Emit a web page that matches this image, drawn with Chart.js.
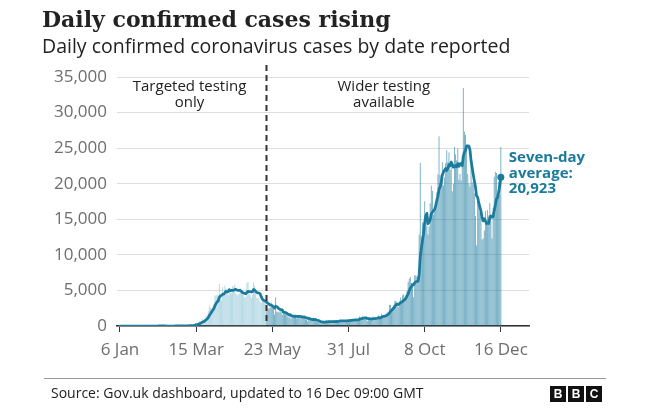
<!DOCTYPE html>
<html><head><meta charset="utf-8">
<script src="https://cdn.jsdelivr.net/npm/chart.js@4.4.1/dist/chart.umd.min.js"></script>
<style>
html,body{margin:0;padding:0;background:#fff;}
#wrap{position:relative;width:650px;height:409px;overflow:hidden;background:#fff;}
canvas{position:absolute;left:0;top:0;}
.t{position:absolute;white-space:nowrap;color:#222;}
#title{left:42px;top:8px;font:bold 22px/22px 'DejaVu Serif';}
#sub{left:42px;top:36px;font:19.5px/19.5px 'Open Sans';}
#rule{position:absolute;left:44px;top:378px;width:562px;height:1px;background:#9a9a9a;}
#src{left:51px;top:386px;font:14px/14px 'Open Sans';}
#bbc{position:absolute;left:550px;top:386px;display:flex;gap:2px;}
#bbc span{display:block;width:16px;height:16px;background:#111;color:#fff;font:bold 12px/16px 'Liberation Sans';text-align:center;}
</style></head><body>
<div id="wrap">
<canvas id="c" width="650" height="409"></canvas>
<div class="t" id="title">Daily confirmed cases rising</div>
<div class="t" id="sub">Daily confirmed coronavirus cases by date reported</div>
<div id="rule"></div>
<div class="t" id="src">Source: Gov.uk dashboard, updated to 16 Dec 09:00 GMT</div>
<div id="bbc"><span>B</span><span>B</span><span>C</span></div>
</div>
<script>
// ---- data ----
const startDate = '2020-01-06';
const testingChangeDate = '2020-05-18';
const tickDates = ['2020-01-06','2020-03-15','2020-05-23','2020-07-31','2020-10-08','2020-12-16'];
const tickLabels = ['6 Jan','15 Mar','23 May','31 Jul','8 Oct','16 Dec'];
const yTickValues = [0,5000,10000,15000,20000,25000,30000,35000];

// daily reported cases (bars), 6 Jan – 16 Dec
const casesJan = [0,0,0,0,0,0,0,0,0,0,0,0,0,0,0,0,0,0,0,0,0,0,0,0,0,2];
const casesFeb = [0,0,0,0,0,1,0,0,1,4,0,1,0,0,0,0,0,0,0,0,0,0,0,0,4,0,0,2,5];
const casesMar = [12,4,11,34,30,48,43,67,48,52,83,134,117,342,407,152,407,676,643,714,1035,665,967,1427,1452,2129,2885,2546,2433,2619,3009];
const casesApr = [4324,4244,4450,3735,5903,3802,3634,5491,4344,5706,5234,5288,4342,5252,4603,4617,5599,5525,5850,4676,4301,4451,4583,5386,4913,4463,4309,3996,4076,6032];
const casesMay = [6201,4806,4339,3985,4406,6111,5614,4649,3896,3923,3877,3403,3242,3446,3560,3451,3534,2684,2412,2472,2615,3287,2959,2409,1625,4043,2004,2013,1887,2445,1936];
const casesJun = [1570,1871,1805,1650,1557,1326,1205,1741,1003,1266,1541,1425,1514,1056,1514,1279,1115,1218,1346,1295,1221,958,874,653,1118,1006,890,815,1146,689];
const casesJul = [829,576,544,624,516,352,581,630,512,642,820,650,530,580,538,463,687,827,650,796,445,760,769,767,768,747,685,581,763,846,880];
const casesAug = [744,938,743,771,892,950,871,758,1062,1351,1148,1009,1441,1062,1012,1040,713,1089,812,1182,1033,1288,1041,853,1184,1048,1522,1276,1108,1715,1406];
const casesSep = [1295,1508,1735,1940,1813,2988,2948,2460,2659,2919,3539,3497,3330,2621,3105,3991,3395,4322,4422,3899,4368,4926,6178,6634,6874,6042,5693,4044,7143,7108];
const casesOct = [6914,6968,12872,22961,12594,14542,14162,17540,13864,15166,12872,13972,17234,19724,18980,15650,16171,16982,18804,21331,26688,21242,20530,23012,19790,20890,22885,24701,23065,24405,21915];
const casesNov = [23254,18950,20018,25177,24141,23287,24957,20572,21350,20412,22950,33470,27301,26860,24962,21363,20051,19609,22915,20252,19875,18662,15450,11299,18213,17555,16022,15871,12155,12330];
const casesDec = [13430,16170,14879,16298,15539,17272,14718,12282,16578,20964,21672,21502,18447,20263,18450,25161];

// seven-day average (line), 6 Jan – 16 Dec
const avgJan = [0,0,0,0,0,0,0,0,0,0,0,0,0,0,0,0,0,0,0,0,0,0,0,0,0,0];
const avgFeb = [0,0,0,0,0,0,0,0,0,1,1,1,1,1,1,1,0,0,0,0,0,0,0,0,1,1,1,1,2];
const avgMar = [3,4,5,8,13,20,26,34,40,46,53,68,78,120,169,184,235,319,392,477,576,613,730,875,986,1198,1509,1724,1977,2213,2439];
const avgApr = [2849,3151,3375,3545,4041,4210,4299,4466,4480,4659,4873,4786,4863,5094,4967,5006,4991,5032,5113,5160,5024,5003,4998,4967,4880,4682,4629,4586,4532,4739];
const avgMay = [4856,4840,4823,4776,4835,5126,5066,4844,4714,4655,4639,4496,4086,3777,3621,3557,3502,3331,3190,3080,2961,2922,2852,2691,2540,2773,2706,2620,2420,2347,2279];
const avgJun = [2271,1961,1932,1881,1833,1674,1569,1594,1470,1393,1377,1358,1385,1364,1331,1371,1349,1303,1292,1260,1284,1205,1147,1081,1066,1018,960,902,929,902];
const avgJul = [928,850,784,746,703,590,575,546,537,551,579,598,624,623,610,603,610,611,611,649,629,661,705,716,708,722,706,725,726,737,753];
const avgAug = [749,777,785,812,831,845,844,846,864,951,1005,1021,1091,1119,1155,1152,1061,1052,1024,987,983,1022,1023,1043,1056,1090,1138,1173,1147,1244,1323];
const avgSep = [1339,1404,1435,1530,1630,1812,2032,2199,2363,2532,2761,3001,3050,3004,3096,3286,3354,3466,3598,3679,3929,4189,4501,4964,5329,5560,5816,5770,6087,6220];
const avgOct = [6260,6273,7249,9716,10937,11994,13002,14520,15505,15833,14391,14588,14973,15767,15973,16228,16372,16959,17649,18235,19229,19553,20250,21227,21628,21926,22148,21864,22125,22678,22522];
const avgNov = [23016,22739,22330,22398,22551,22392,22826,22443,22786,22842,22524,23857,24430,24702,25329,25331,25280,24802,23294,22287,21290,20390,19545,18295,18095,17329,16725,16153,15224,14778];
const avgDec = [15082,14790,14408,14448,14400,15131,15472,15308,15367,16236,17004,17855,18023,18815,19697,20923];

const annotLeft = ['Targeted testing','only'];
const annotRight = ['Wider testing','available'];
const annotAvg = ['Seven-day','average:','20,923'];

// ---- build ----
const DAY = 86400000;
const dayIndex = d => Math.round((Date.parse(d) - Date.parse(startDate)) / DAY);
const cases = [].concat(casesJan,casesFeb,casesMar,casesApr,casesMay,casesJun,casesJul,casesAug,casesSep,casesOct,casesNov,casesDec);
const avg = [].concat(avgJan,avgFeb,avgMar,avgApr,avgMay,avgJun,avgJul,avgAug,avgSep,avgOct,avgNov,avgDec);
const changeDay = dayIndex(testingChangeDate);
const tickDays = tickDates.map(dayIndex);
const barPts = cases.map((v,i)=>({x:i,y:v}));
const linePts = avg.map((v,i)=>({x:i,y:v}));
const lastIdx = linePts.length - 1;

const TEAL = '#1a7b9c';
const SANS = "'Open Sans'";

const annot = {
  id: 'annot',
  afterDatasetsDraw(chart){
    const {ctx, chartArea:a, scales:{x, y}} = chart;
    const dx = Math.round(x.getPixelForValue(changeDay - 0.5)) + 0.5;
    ctx.save();
    ctx.strokeStyle = '#333'; ctx.lineWidth = 2; ctx.setLineDash([6,4]);
    ctx.beginPath(); ctx.moveTo(dx, a.top - 12); ctx.lineTo(dx, a.bottom); ctx.stroke();
    ctx.setLineDash([]);
    ctx.fillStyle = '#222';
    ctx.font = `15px ${SANS}`;
    ctx.textAlign = 'center'; ctx.textBaseline = 'middle';
    const xl = x.getPixelForValue(63), xr = x.getPixelForValue(239);
    annotLeft.forEach((s,i)=>ctx.fillText(s, xl, a.top + 10 + i*16));
    annotRight.forEach((s,i)=>ctx.fillText(s, xr, a.top + 10 + i*16));
    const px = x.getPixelForValue(lastIdx), py = y.getPixelForValue(avg[lastIdx]);
    ctx.fillStyle = TEAL;
    ctx.font = `bold 15px ${SANS}`;
    ctx.textAlign = 'left';
    annotAvg.forEach((s,i)=>ctx.fillText(s, px + 8, py - 19 + i*15.5));
    ctx.restore();
  }
};

new Chart(document.getElementById('c'), {
  data: {
    datasets: [
      {
        type: 'line', data: linePts, order: 0,
        borderColor: TEAL, borderWidth: 2.75, tension: 0,
        pointRadius: c => c.dataIndex === lastIdx ? 3.5 : 0,
        pointBackgroundColor: TEAL, pointBorderWidth: 0,
        borderJoinStyle: 'round', borderCapStyle: 'round'
      },
      {
        type: 'bar', data: barPts, order: 1,
        backgroundColor: c => (c.raw && c.raw.x >= changeDay) ? 'rgba(20,118,155,0.62)' : 'rgba(100,175,200,0.5)',
        barPercentage: 0.8, categoryPercentage: 1, borderWidth: 0
      }
    ]
  },
  options: {
    responsive: false, animation: false,
    layout: { padding: { left: 0, right: 121, top: 77, bottom: 43 } },
    plugins: { legend: {display:false}, tooltip: {enabled:false} },
    scales: {
      x: {
        type: 'linear', min: -2.7, max: 370.5, offset: false,
        afterBuildTicks: s => { s.ticks = tickDays.map(v=>({value:v})); },
        afterFit: s => { s.height = 40; },
        ticks: {
          autoSkip: false, maxRotation: 0, padding: 8,
          color: '#6e6e6e', font: { family: 'Open Sans', size: 17 },
          callback: v => tickLabels[tickDays.indexOf(v)]
        },
        grid: { offset: false, drawOnChartArea: false, drawTicks: true, tickLength: 6, color: '#333', lineWidth: 1 },
        border: { display: true, color: '#333', width: 1.5 }
      },
      y: {
        min: 0, max: 35000,
        afterBuildTicks: s => { s.ticks = yTickValues.map(v=>({value:v})); },
        afterFit: s => { s.width = 117; },
        ticks: {
          padding: 10, color: '#6e6e6e', font: { family: 'Open Sans', size: 17 },
          callback: v => v.toLocaleString('en-GB')
        },
        grid: { color: '#dddddd', lineWidth: 1, drawTicks: false },
        border: { display: false }
      }
    }
  },
  plugins: [annot]
});
</script>
</body></html>
